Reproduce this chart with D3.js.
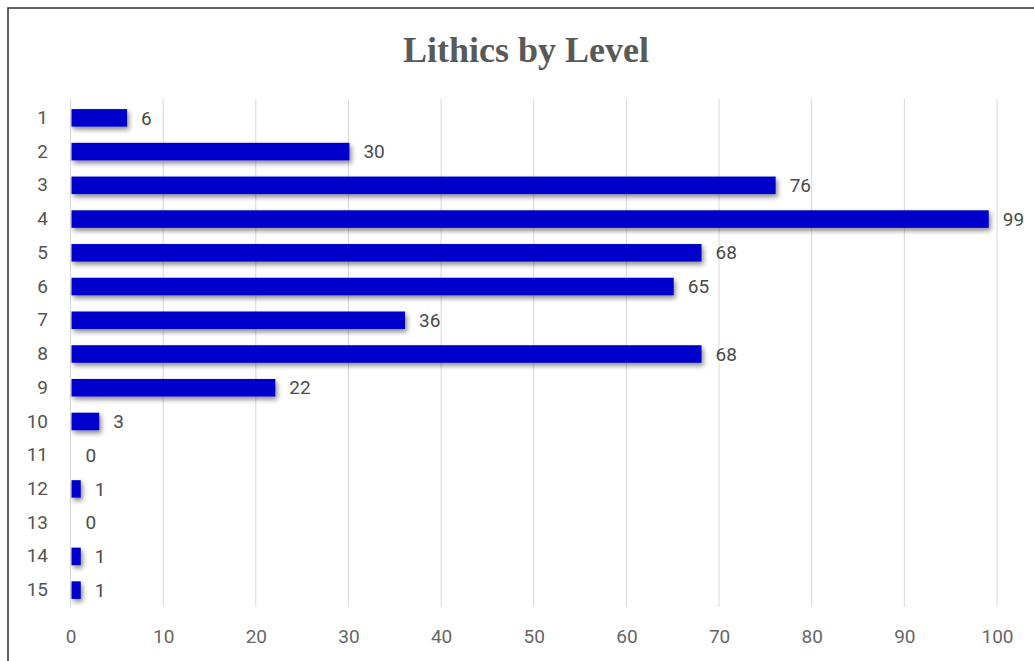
<!DOCTYPE html>
<html>
<head>
<meta charset="utf-8">
<script src="https://cdn.jsdelivr.net/npm/d3@7"></script>
<style>
  html, body { margin: 0; padding: 0; background: #fff; }
  svg { display: block; }
</style>
</head>
<body>
<svg id="chart" width="1034" height="661"></svg>
<script>
// Lithic counts per excavation level
const levels = ["1","2","3","4","5","6","7","8","9","10","11","12","13","14","15"];
const counts = [6, 30, 76, 99, 68, 65, 36, 68, 22, 3, 0, 1, 0, 1, 1];
const xTicks = [0, 10, 20, 30, 40, 50, 60, 70, 80, 90, 100];
const chartTitle = "Lithics by Level";

const svg = d3.select("#chart");
const W = 1034, H = 661;
const labelFont = "Roboto, 'Liberation Sans', Arial, sans-serif";

// outer frame
svg.append("rect")
  .attr("x", 8).attr("y", 8)
  .attr("width", W + 20).attr("height", H + 20)
  .attr("fill", "#fff").attr("stroke", "#3a3a3a").attr("stroke-width", 1.6);

// title
svg.append("text")
  .attr("x", 526).attr("y", 62)
  .attr("text-anchor", "middle")
  .attr("font-family", "'Liberation Serif', 'Times New Roman', serif")
  .attr("font-weight", "bold")
  .attr("font-size", 36)
  .attr("fill", "#595959")
  .text(chartTitle);

const plot = { left: 70.5, right: 997, top: 101, bottom: 607 };

const x = d3.scaleLinear().domain([0, 100]).range([plot.left, plot.right]);
const y = d3.scaleBand().domain(levels).range([plot.top, plot.bottom]).paddingInner(0.48).paddingOuter(0.24);

// soft drop shadow under the bars
const defs = svg.append("defs");
const f = defs.append("filter").attr("id", "shadow")
  .attr("x", "-20%").attr("y", "-50%").attr("width", "150%").attr("height", "220%");
f.append("feDropShadow")
  .attr("dx", 2).attr("dy", 3).attr("stdDeviation", 2.5)
  .attr("flood-color", "#000").attr("flood-opacity", 0.45);

// vertical grid lines
svg.append("g").selectAll("line").data(xTicks).join("line")
  .attr("x1", d => x(d)).attr("x2", d => x(d))
  .attr("y1", plot.top - 2).attr("y2", plot.bottom)
  .attr("stroke", "#d9d9d9").attr("stroke-width", 1);

// x axis tick labels
const xAxis = d3.axisBottom(x).tickValues(xTicks).tickSize(0).tickPadding(0);
const gx = svg.append("g").attr("transform", `translate(0, ${plot.bottom + 22})`).call(xAxis);
gx.select(".domain").remove();
gx.selectAll("text")
  .attr("font-family", labelFont)
  .attr("font-size", 19).attr("fill", "#666").attr("dy", "0.71em");

// y axis category labels
const yAxis = d3.axisLeft(y).tickSize(0).tickPadding(0);
const gy = svg.append("g").attr("transform", `translate(48, 0)`).call(yAxis);
gy.select(".domain").remove();
gy.selectAll("text")
  .attr("font-family", labelFont)
  .attr("font-size", 19).attr("fill", "#555");

const data = levels.map((l, i) => ({ level: l, value: counts[i] }));

// bars
svg.append("g").attr("filter", "url(#shadow)")
  .selectAll("rect").data(data.filter(d => d.value > 0)).join("rect")
  .attr("x", x(0) + 1).attr("y", d => y(d.level))
  .attr("width", d => x(d.value) - x(0))
  .attr("height", y.bandwidth())
  .attr("fill", "#0000cc");

// value labels
svg.append("g").selectAll("text").data(data).join("text")
  .attr("x", d => x(d.value) + 15)
  .attr("y", d => y(d.level) + y.bandwidth() / 2)
  .attr("dy", "0.35em")
  .attr("font-family", labelFont)
  .attr("font-size", 19).attr("fill", "#4a4a4a")
  .text(d => d.value);
</script>
</body>
</html>
